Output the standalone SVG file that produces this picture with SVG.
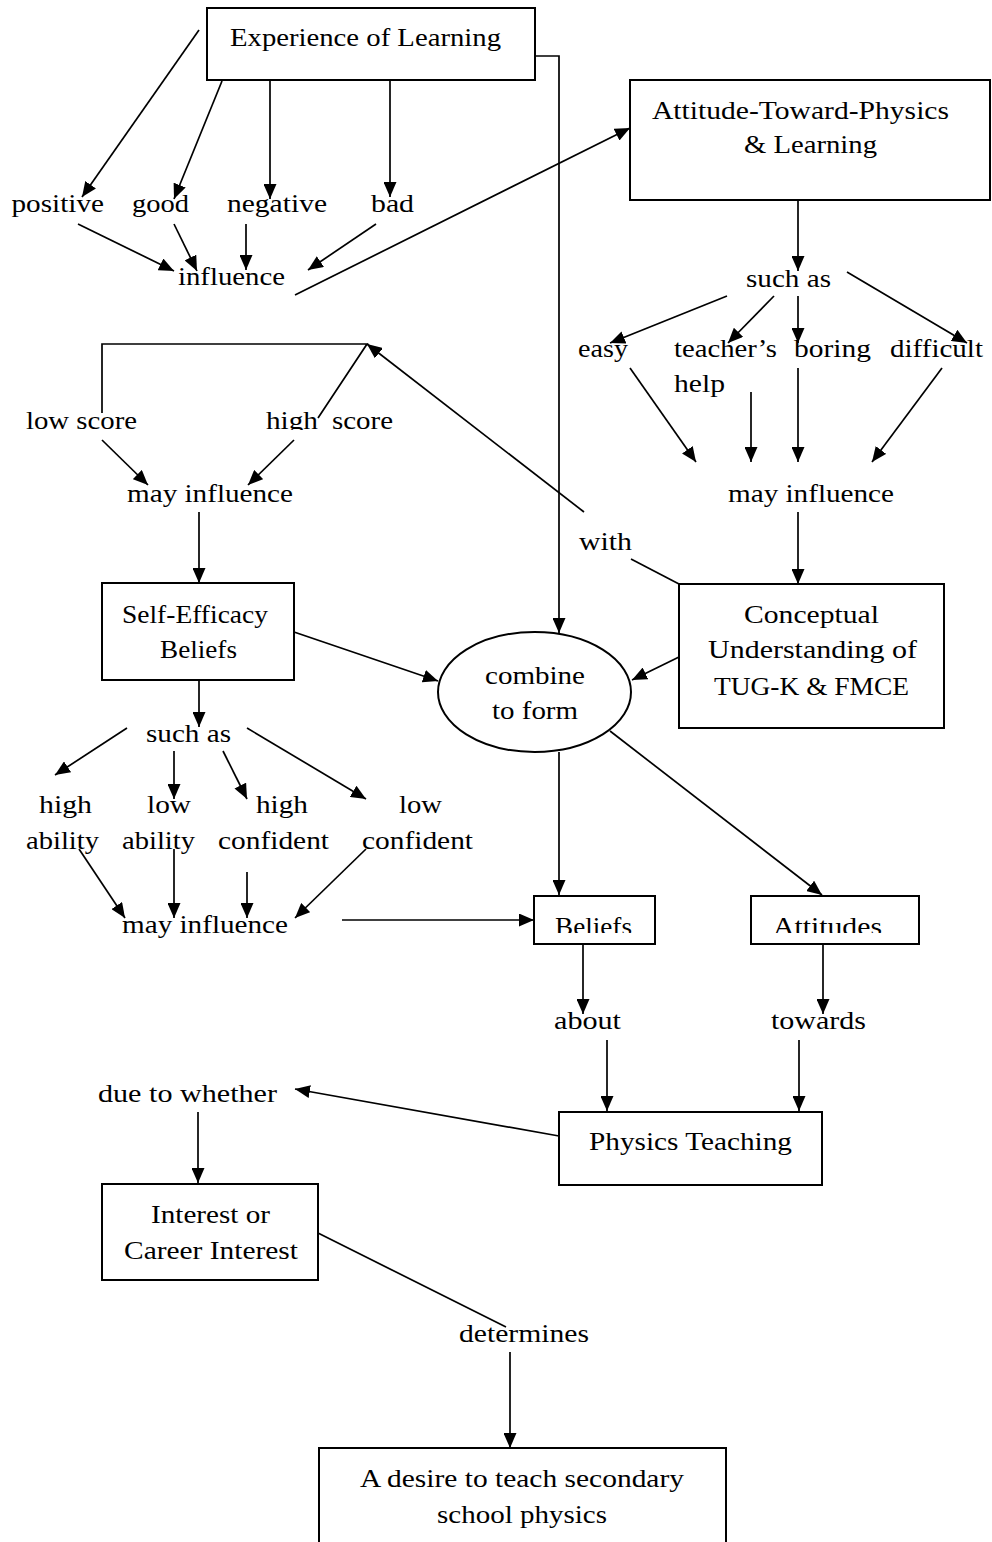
<svg xmlns="http://www.w3.org/2000/svg" width="992" height="1542" viewBox="0 0 992 1542">
  <style>
    .t { font-family: "Liberation Serif", "Times New Roman", serif; font-size: 26px; fill: #000; }
    .box { fill: #fff; stroke: #000; stroke-width: 2; }
    .ln { fill: none; stroke: #000; stroke-width: 1.7; }
    .ar { fill: none; stroke: #000; stroke-width: 1.7; marker-end: url(#head); }
  </style>
  <defs>
    <marker id="head" markerUnits="userSpaceOnUse" markerWidth="15" markerHeight="13" refX="15" refY="6.5" orient="auto">
      <path d="M0,0 L15,6.5 L0,13 Z" fill="#000"/>
    </marker>
    <clipPath id="cutHigh"><rect x="250" y="400" width="80" height="30"/></clipPath>
    <clipPath id="cutBeliefs"><rect x="535" y="897" width="119" height="36"/></clipPath>
    <clipPath id="cutAttitudes"><rect x="752" y="897" width="166" height="36"/></clipPath>
  </defs>

  <!-- connectors -->
  <g id="connectors">
    <line class="ar" x1="199" y1="30" x2="82" y2="197"/>
    <line class="ar" x1="222" y1="81" x2="174" y2="199"/>
    <line class="ar" x1="270" y1="80" x2="270" y2="199"/>
    <line class="ar" x1="390" y1="80" x2="390" y2="197"/>
    <line class="ar" x1="78" y1="224" x2="174" y2="271"/>
    <line class="ar" x1="174" y1="224" x2="197" y2="271"/>
    <line class="ar" x1="246" y1="224" x2="246" y2="270"/>
    <line class="ar" x1="376" y1="224" x2="308" y2="270"/>
    <line class="ar" x1="295" y1="295" x2="630" y2="128"/>
    <polyline class="ar" points="535,56 559,56 559,633"/>

    <line class="ar" x1="798" y1="200" x2="798" y2="271"/>
    <line class="ar" x1="727" y1="296" x2="610" y2="343"/>
    <line class="ar" x1="774" y1="296" x2="728" y2="343"/>
    <line class="ar" x1="798" y1="296" x2="798" y2="343"/>
    <line class="ar" x1="847" y1="272" x2="967" y2="343"/>
    <line class="ar" x1="630" y1="368" x2="696" y2="462"/>
    <line class="ar" x1="751" y1="392" x2="751" y2="462"/>
    <line class="ar" x1="798" y1="368" x2="798" y2="462"/>
    <line class="ar" x1="942" y1="368" x2="872" y2="462"/>
    <line class="ar" x1="798" y1="512" x2="798" y2="584"/>

    <line class="ln" x1="679" y1="584" x2="631" y2="559"/>
    <line class="ar" x1="584" y1="512" x2="367" y2="344"/>
    <polyline class="ln" points="318,418 367,344 102,344 102,413"/>
    <line class="ar" x1="102" y1="440" x2="148" y2="485"/>
    <line class="ar" x1="294" y1="440" x2="248" y2="485"/>
    <line class="ar" x1="199" y1="512" x2="199" y2="583"/>

    <line class="ar" x1="294" y1="632" x2="438" y2="681"/>
    <line class="ar" x1="679" y1="657" x2="632" y2="680"/>

    <line class="ar" x1="199" y1="680" x2="199" y2="727"/>
    <line class="ar" x1="127" y1="728" x2="55" y2="775"/>
    <line class="ar" x1="174" y1="751" x2="174" y2="799"/>
    <line class="ar" x1="223" y1="751" x2="247" y2="799"/>
    <line class="ar" x1="247" y1="728" x2="366" y2="799"/>
    <line class="ar" x1="79" y1="849" x2="125" y2="918"/>
    <line class="ar" x1="174" y1="849" x2="174" y2="918"/>
    <line class="ar" x1="247" y1="872" x2="247" y2="918"/>
    <line class="ar" x1="366" y1="849" x2="295" y2="918"/>
    <line class="ar" x1="342" y1="920" x2="534" y2="920"/>

    <line class="ar" x1="559" y1="752" x2="559" y2="895"/>
    <line class="ar" x1="610" y1="731" x2="822" y2="895"/>

    <line class="ar" x1="583" y1="944" x2="583" y2="1014"/>
    <line class="ar" x1="607" y1="1040" x2="607" y2="1111"/>
    <line class="ar" x1="823" y1="944" x2="823" y2="1014"/>
    <line class="ar" x1="799" y1="1040" x2="799" y2="1111"/>

    <line class="ar" x1="559" y1="1136" x2="295" y2="1089"/>
    <line class="ar" x1="198" y1="1112" x2="198" y2="1183"/>
    <line class="ln" x1="318" y1="1233" x2="506" y2="1327"/>
    <line class="ar" x1="510" y1="1352" x2="510" y2="1448"/>
  </g>

  <!-- boxed concepts -->
  <g id="experience">
    <rect class="box" x="207" y="8" width="328" height="72"/>
    <text class="t" x="230" y="46" textLength="271" lengthAdjust="spacingAndGlyphs">Experience of Learning</text>
  </g>
  <g id="attitude-toward-physics">
    <rect class="box" x="630" y="80" width="360" height="120"/>
    <text class="t" x="652" y="119" textLength="297" lengthAdjust="spacingAndGlyphs">Attitude-Toward-Physics</text>
    <text class="t" x="744" y="153" textLength="133" lengthAdjust="spacingAndGlyphs">&amp; Learning</text>
  </g>
  <g id="self-efficacy">
    <rect class="box" x="102" y="583" width="192" height="97"/>
    <text class="t" x="122" y="623" textLength="146" lengthAdjust="spacingAndGlyphs">Self-Efficacy</text>
    <text class="t" x="160" y="658" textLength="77" lengthAdjust="spacingAndGlyphs">Beliefs</text>
  </g>
  <g id="conceptual">
    <rect class="box" x="679" y="584" width="265" height="144"/>
    <text class="t" x="744" y="623" textLength="135" lengthAdjust="spacingAndGlyphs">Conceptual</text>
    <text class="t" x="708" y="658" textLength="209" lengthAdjust="spacingAndGlyphs">Understanding of</text>
    <text class="t" x="714" y="695" textLength="195" lengthAdjust="spacingAndGlyphs">TUG-K &amp; FMCE</text>
  </g>
  <g id="combine">
    <ellipse fill="#fff" stroke="#000" stroke-width="2" cx="534.5" cy="692" rx="96.5" ry="60"/>
    <text class="t" x="485" y="684" textLength="100" lengthAdjust="spacingAndGlyphs">combine</text>
    <text class="t" x="492" y="719" textLength="86" lengthAdjust="spacingAndGlyphs">to form</text>
  </g>
  <g id="beliefs">
    <rect class="box" x="534" y="896" width="121" height="48"/>
    <text class="t" x="555" y="935" textLength="77" lengthAdjust="spacingAndGlyphs" clip-path="url(#cutBeliefs)">Beliefs</text>
  </g>
  <g id="attitudes">
    <rect class="box" x="751" y="896" width="168" height="48"/>
    <text class="t" x="773" y="935" textLength="109" lengthAdjust="spacingAndGlyphs" clip-path="url(#cutAttitudes)">Attitudes</text>
  </g>
  <g id="physics-teaching">
    <rect class="box" x="559" y="1112" width="263" height="73"/>
    <text class="t" x="589" y="1150" textLength="203" lengthAdjust="spacingAndGlyphs">Physics Teaching</text>
  </g>
  <g id="interest">
    <rect class="box" x="102" y="1184" width="216" height="96"/>
    <text class="t" x="151" y="1223" textLength="119" lengthAdjust="spacingAndGlyphs">Interest or</text>
    <text class="t" x="124" y="1259" textLength="174" lengthAdjust="spacingAndGlyphs">Career Interest</text>
  </g>
  <g id="desire">
    <rect class="box" x="319" y="1448" width="407" height="120"/>
    <text class="t" x="360" y="1487" textLength="324" lengthAdjust="spacingAndGlyphs">A desire to teach secondary</text>
    <text class="t" x="437" y="1523" textLength="170" lengthAdjust="spacingAndGlyphs">school physics</text>
  </g>

  <!-- free-standing terms and linking words -->
  <g id="experience-kinds">
    <text class="t" x="11.5" y="212" textLength="92.5" lengthAdjust="spacingAndGlyphs">positive</text>
    <text class="t" x="132" y="212" textLength="57" lengthAdjust="spacingAndGlyphs">good</text>
    <text class="t" x="227" y="212" textLength="100" lengthAdjust="spacingAndGlyphs">negative</text>
    <text class="t" x="371" y="212" textLength="43" lengthAdjust="spacingAndGlyphs">bad</text>
  </g>
  <g id="influence">
    <text class="t" x="178" y="285" textLength="107" lengthAdjust="spacingAndGlyphs">influence</text>
  </g>
  <g id="such-as-attitude">
    <text class="t" x="746" y="287" textLength="85" lengthAdjust="spacingAndGlyphs">such as</text>
  </g>
  <g id="attitude-kinds">
    <text class="t" x="578" y="357" textLength="50" lengthAdjust="spacingAndGlyphs">easy</text>
    <text class="t" x="674" y="357" textLength="103" lengthAdjust="spacingAndGlyphs">teacher’s</text>
    <text class="t" x="674" y="392" textLength="51" lengthAdjust="spacingAndGlyphs">help</text>
    <text class="t" x="794" y="357" textLength="77" lengthAdjust="spacingAndGlyphs">boring</text>
    <text class="t" x="890" y="357" textLength="93" lengthAdjust="spacingAndGlyphs">difficult</text>
  </g>
  <g id="may-influence-attitude">
    <text class="t" x="728" y="502" textLength="166" lengthAdjust="spacingAndGlyphs">may influence</text>
  </g>
  <g id="with">
    <text class="t" x="579" y="550" textLength="53" lengthAdjust="spacingAndGlyphs">with</text>
  </g>
  <g id="scores">
    <text class="t" x="26" y="429" textLength="111" lengthAdjust="spacingAndGlyphs">low score</text>
    <text class="t" x="266" y="429" textLength="52" lengthAdjust="spacingAndGlyphs" clip-path="url(#cutHigh)">high</text>
    <text class="t" x="332" y="429" textLength="61" lengthAdjust="spacingAndGlyphs">score</text>
  </g>
  <g id="may-influence-score">
    <text class="t" x="127" y="502" textLength="166" lengthAdjust="spacingAndGlyphs">may influence</text>
  </g>
  <g id="such-as-efficacy">
    <text class="t" x="146" y="742" textLength="85" lengthAdjust="spacingAndGlyphs">such as</text>
  </g>
  <g id="efficacy-kinds">
    <text class="t" x="39" y="813" textLength="53" lengthAdjust="spacingAndGlyphs">high</text>
    <text class="t" x="26" y="849" textLength="73" lengthAdjust="spacingAndGlyphs">ability</text>
    <text class="t" x="147" y="813" textLength="44" lengthAdjust="spacingAndGlyphs">low</text>
    <text class="t" x="122" y="849" textLength="73" lengthAdjust="spacingAndGlyphs">ability</text>
    <text class="t" x="256" y="813" textLength="52" lengthAdjust="spacingAndGlyphs">high</text>
    <text class="t" x="218" y="849" textLength="111" lengthAdjust="spacingAndGlyphs">confident</text>
    <text class="t" x="399" y="813" textLength="43" lengthAdjust="spacingAndGlyphs">low</text>
    <text class="t" x="362" y="849" textLength="111" lengthAdjust="spacingAndGlyphs">confident</text>
  </g>
  <g id="may-influence-efficacy">
    <text class="t" x="122" y="933" textLength="166" lengthAdjust="spacingAndGlyphs">may influence</text>
  </g>
  <g id="about">
    <text class="t" x="554" y="1029" textLength="67" lengthAdjust="spacingAndGlyphs">about</text>
  </g>
  <g id="towards">
    <text class="t" x="771" y="1029" textLength="95" lengthAdjust="spacingAndGlyphs">towards</text>
  </g>
  <g id="due-to-whether">
    <text class="t" x="98" y="1102" textLength="179" lengthAdjust="spacingAndGlyphs">due to whether</text>
  </g>
  <g id="determines">
    <text class="t" x="459" y="1342" textLength="130" lengthAdjust="spacingAndGlyphs">determines</text>
  </g>
</svg>
